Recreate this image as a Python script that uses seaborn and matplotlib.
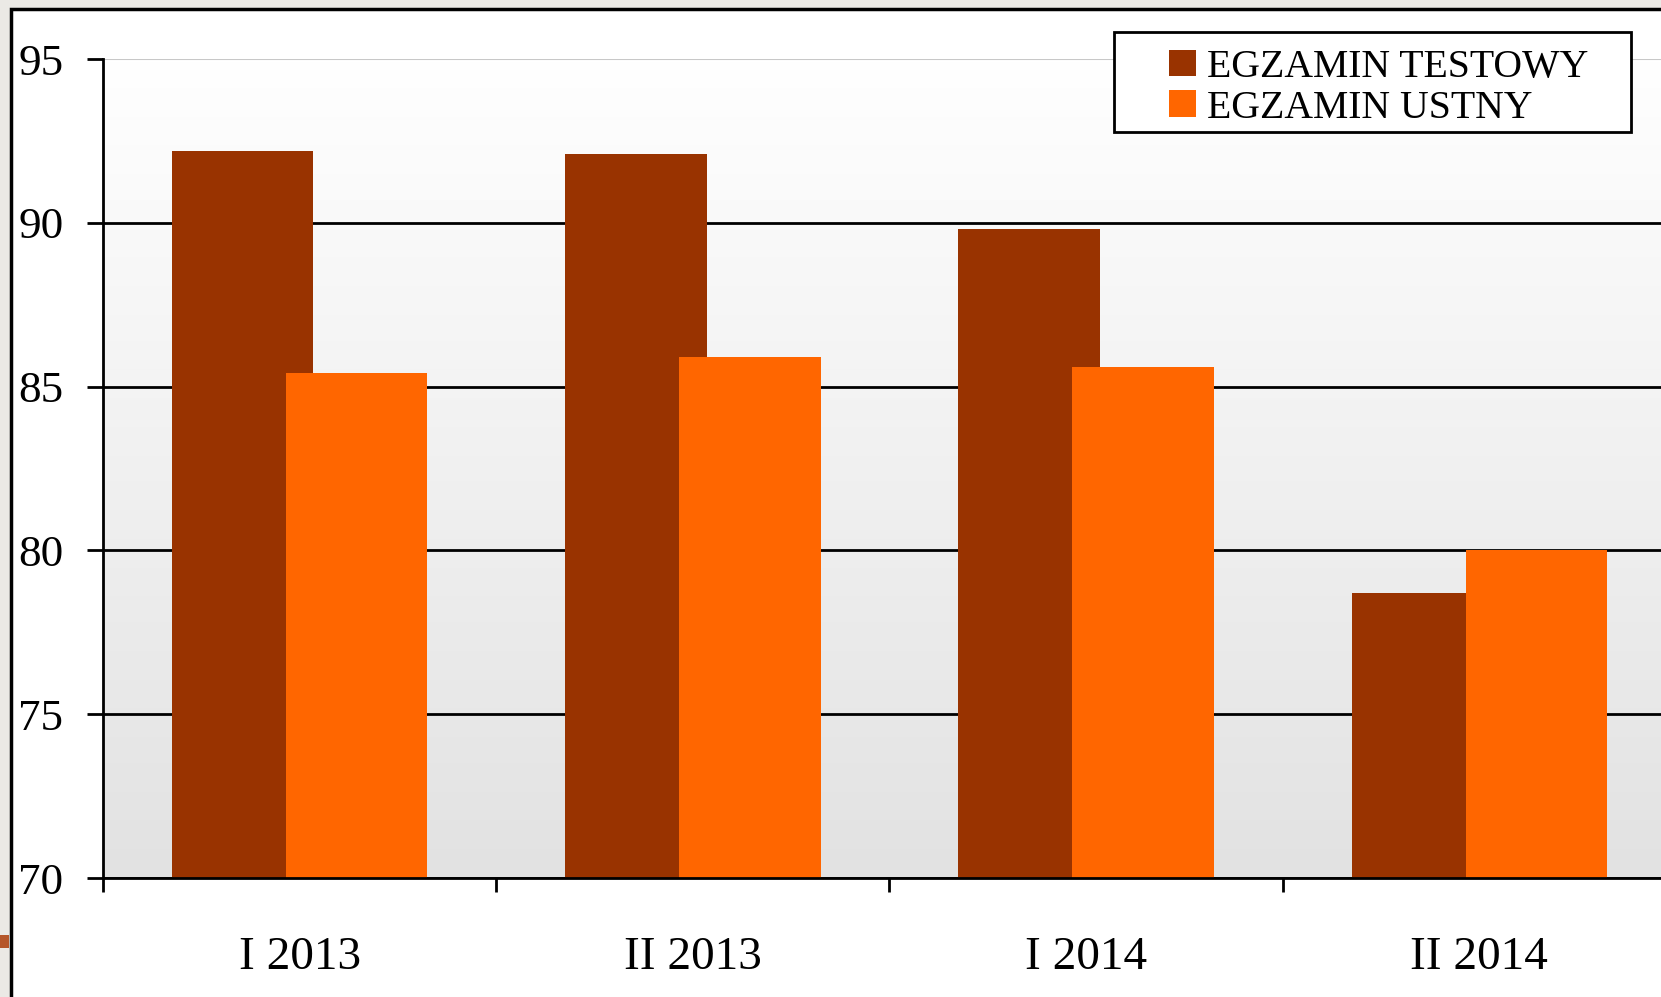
import numpy as np
import pandas as pd
import matplotlib
matplotlib.use("Agg")
import matplotlib.pyplot as plt
from matplotlib.patches import Patch, Rectangle
from matplotlib.colors import LinearSegmentedColormap
import seaborn as sns

# dane
okresy = ["I 2013", "II 2013", "I 2014", "II 2014"]
testowy = [92.2, 92.1, 89.8, 78.7]
ustny = [85.4, 85.9, 85.6, 80.0]
serie = ["EGZAMIN TESTOWY", "EGZAMIN USTNY"]
kolory = ["#993300", "#FF6600"]
y_ticks = [70, 75, 80, 85, 90, 95]

df = pd.DataFrame({
    "okres": okresy * 2,
    "wynik": testowy + ustny,
    "egzamin": [serie[0]] * 4 + [serie[1]] * 4,
})

sns.set_theme(style="white")
plt.rcParams["font.family"] = ["Liberation Serif", "DejaVu Serif"]

W, H = 1661, 997
fig = plt.figure(figsize=(W / 100, H / 100), dpi=100)
fig.patch.set_facecolor("#ebe9e5")

# biala ramka slajdu
fig.patches.append(Rectangle((10.5 / W, -0.05), 1.1, 1 - 9.5 / H + 0.05,
                             transform=fig.transFigure, facecolor="white",
                             edgecolor="black", linewidth=2.5, zorder=-5))
fig.patches.append(Rectangle((0, 1 - 948 / H), 9 / W, 13 / H,
                             transform=fig.transFigure, facecolor="#b5562a",
                             edgecolor="none", zorder=-4))

ax = fig.add_axes([103 / W, 1 - 878 / H, 1573 / W, 819 / H])
ax.set_facecolor("none")

sns.barplot(data=df, x="okres", y="wynik", hue="egzamin", palette=kolory,
            width=0.58, saturation=1, dodge=True, legend=False, ax=ax)
for p in ax.patches:
    c = p.get_x() + p.get_width() / 2
    p.set_width(0.36)
    p.set_x(c - 0.18)
    p.set_edgecolor("none")

# gradient tla
cmap = LinearSegmentedColormap.from_list("bg", ["#e2e2e2", "#ffffff"])
ax.imshow(np.linspace(0, 1, 256).reshape(-1, 1), cmap=cmap, origin="lower",
          extent=(-0.5, 3.5, 70, 95), aspect="auto", zorder=0)

ax.set_xlim(-0.5, 3.5)
ax.set_ylim(70, 95)
ax.set_yticks(y_ticks)
ax.set_xticks(range(len(okresy)))
ax.set_xticklabels(okresy)
ax.set_xticks([-0.5, 0.5, 1.5, 2.5, 3.5], minor=True)
ax.set_xlabel("")
ax.set_ylabel("")

ax.set_axisbelow(True)
ax.grid(axis="y", color="black", linewidth=2)
ax.get_ygridlines()[-1].set_color("#c8c8c8")
ax.get_ygridlines()[-1].set_linewidth(1.5)

for s in ["top", "right"]:
    ax.spines[s].set_visible(False)
for s in ["left", "bottom"]:
    ax.spines[s].set_color("black")
    ax.spines[s].set_linewidth(2)

ax.tick_params(axis="y", direction="out", length=11.5, width=2, color="black",
               labelsize=32.5, pad=17, left=True)
ax.tick_params(axis="x", which="major", length=0, labelsize=34, pad=42)
ax.tick_params(axis="x", which="minor", direction="out", length=10, width=2,
               color="black", bottom=True)
for t in ax.get_xticklabels() + ax.get_yticklabels():
    t.set_color("black")

# legenda
uchwyty = [Patch(facecolor=k, edgecolor="none", label=s) for k, s in zip(kolory, serie)]
fig.legend(handles=uchwyty, loc="upper left",
           bbox_to_anchor=(1169 / W, 1 - 49 / H), bbox_transform=fig.transFigure,
           frameon=False, fontsize=28.6, labelcolor="black",
           handlelength=0.68, handleheight=0.66,
           handletextpad=0.28, labelspacing=0.09, borderpad=0, borderaxespad=0)
fig.patches.append(Rectangle((1114 / W, 1 - 132 / H), 517 / W, 100 / H,
                             transform=fig.transFigure, facecolor="white",
                             edgecolor="black", linewidth=2, zorder=2))

fig.savefig("out.png", dpi=100, facecolor=fig.get_facecolor())
